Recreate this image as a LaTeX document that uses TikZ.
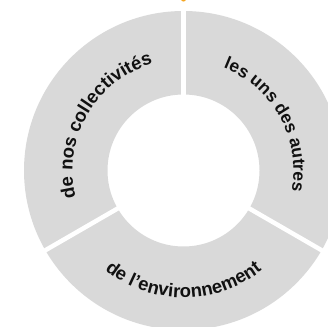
\documentclass[tikz,border=0pt]{standalone}
\usepackage{fontspec}
\usepackage{xcolor}
\usepackage{tikz}
\usetikzlibrary{calc,decorations.text}
\newfontfamily\labfont{Liberation Sans}
\definecolor{ringgray}{HTML}{D9D9D9}
\definecolor{ink}{HTML}{111111}
\definecolor{marker}{HTML}{F5A623}
\tikzset{
  ring/.style={fill=ringgray},
  gap/.style={draw=white, line width=4.5pt, line cap=butt},
  tip/.style={fill=marker},
  arctext/.style={decorate, decoration={text along path, text align=center,
      text color=ink}},
}
\newcommand{\labsize}{\labfont\bfseries\fontsize{18.5}{22}\selectfont}
\newcommand{\labsmall}{\labfont\bfseries\fontsize{17.5}{21}\selectfont}

\begin{document}
\begin{tikzpicture}[x=1pt,y=1pt]
  \clip (0,0) rectangle (328,326);
  \coordinate (C) at (183.5,155.5);
  % ring with three sectors
  \fill[ring, even odd rule] (C) circle[radius=159.5] (C) circle[radius=76];
  \foreach \a in {90,210,330}
    \draw[gap] ($(C)+(\a:74)$) -- ($(C)+(\a:162)$);
  \fill[tip] (183.5,327) circle[radius=2.6];
  % labels along the arcs
  \path[arctext, decoration={text={|\labsize|de nos collectivités}}]
    ($(C)+(210:111)$) arc[start angle=210, end angle=90, radius=111];
  \path[arctext, decoration={text={|\labsmall|les uns des autres}}]
    ($(C)+(89:110)$) arc[start angle=89, end angle=-31, radius=110];
  \path[arctext, decoration={text={|\labsize|de l’environnement}}]
    ($(C)+(210:127)$) arc[start angle=210, end angle=330, radius=127];
\end{tikzpicture}
\end{document}
